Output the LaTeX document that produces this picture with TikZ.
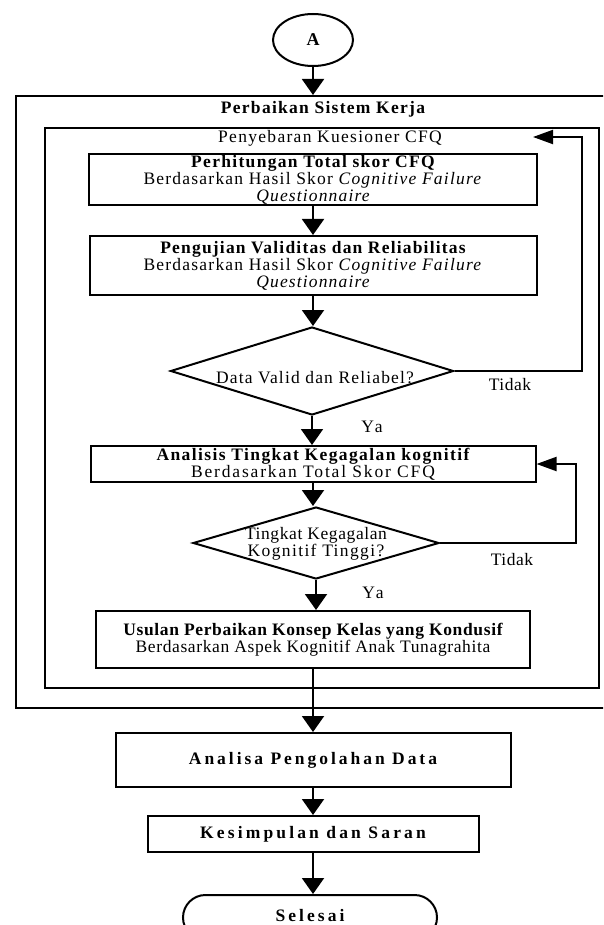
\documentclass[tikz,border=0pt]{standalone}
\usepackage{fontspec}
\setmainfont{Liberation Serif}
\usetikzlibrary{arrows.meta,shapes.geometric,shapes.misc}
\newcommand\lsp[2]{{\addfontfeature{LetterSpace=#1}#2}}
\begin{document}
\begin{tikzpicture}[x=1pt,y=-1pt,
  txt/.style={inner sep=0pt, align=center, font=\fontsize{17.5}{17}\selectfont},
  box/.style={txt, draw, line width=2pt},
  frame/.style={draw, line width=2pt, inner sep=0pt, anchor=north west},
  dia/.style={draw, diamond, line width=2pt, inner sep=0pt},
  darr/.style={line width=2pt, -{Triangle[width=22pt,length=16pt]}},
  harr/.style={line width=2pt, -{Triangle[width=14pt,length=20pt]}}]
\clip (0,0) rectangle (603,925);
\fill[white] (0,0) rectangle (603,925);

% start connector
\node[draw, ellipse, line width=2pt, minimum width=80pt, minimum height=52pt, inner sep=0pt,
      font=\bfseries\fontsize{18}{17}\selectfont] (A) at (313,40) {A};

% frames
\node[frame, minimum width=625pt, minimum height=612pt] (outer) at (15,95) {};
\node[frame, minimum width=554pt, minimum height=560pt] (inner) at (44,127) {};
\node[txt] (title) at (323,109) {\lsp{7.3}{\bfseries Perbaikan Sistem Kerja}};
\node[txt] (peny) at (330,138) {\lsp{7.4}{Penyebaran Kuesioner CFQ}};

% process boxes
\node[box, minimum width=448pt, minimum height=51pt] (perh) at (313,179.5)
  {\lsp{7.5}{\bfseries Perhitungan Total skor CFQ}\\
   \lsp{7}{Berdasarkan Hasil Skor \textit{Cognitive Failure}}\\
   \lsp{6.6}{\itshape Questionnaire}};
\node[box, minimum width=447pt, minimum height=59pt] (peng) at (313,265.5)
  {\lsp{6.8}{\bfseries Pengujian Validitas dan Reliabilitas}\\
   \lsp{7}{Berdasarkan Hasil Skor \textit{Cognitive Failure}}\\
   \lsp{6.6}{\itshape Questionnaire}};

\node[dia, minimum width=283pt, minimum height=88pt] (d1) at (312,371) {};
\node[txt] (d1t) at (315,378) {\lsp{6.7}{Data Valid dan Reliabel?}};

\node[box, minimum width=445pt, minimum height=36pt] (anal) at (313,464)
  {\lsp{8}{\bfseries Analisis Tingkat Kegagalan kognitif}\\
   \lsp{10.5}{Berdasarkan Total Skor CFQ}};

\node[dia, minimum width=246pt, minimum height=72pt] (d2) at (316,543) {};
\node[txt] (d2t) at (316,544) {\lsp{3.4}{Tingkat Kegagalan}\\ \lsp{7.8}{Kognitif Tinggi?}};

\node[box, minimum width=434pt, minimum height=57pt] (usul) at (313,639.5)
  {\lsp{3.7}{\bfseries Usulan Perbaikan Konsep Kelas yang Kondusif}\\
   \lsp{3.6}{Berdasarkan Aspek Kognitif Anak Tunagrahita}};

\node[box, minimum width=395pt, minimum height=54pt] (analisa) at (313,760)
  {\lsp{17}{\bfseries Analisa Pengolahan Data}};
\node[box, minimum width=331pt, minimum height=36pt] (kes) at (313,834)
  {\lsp{18}{\bfseries Kesimpulan dan Saran}};
\node[box, rounded rectangle, minimum width=254pt, minimum height=45pt] (sel) at (310,917.5)
  {\raisebox{4pt}{\lsp{17.5}{\bfseries Selesai}}};

% labels
\node[txt] (ya1) at (372,427) {\lsp{15}{Ya}};
\node[txt] (ti1) at (510,385) {\lsp{3}{Tidak}};
\node[txt] (ti2) at (512,560) {\lsp{3}{Tidak}};
\node[txt] (ya2) at (373,593) {\lsp{15}{Ya}};

% main flow
\draw[darr] (A.south) -- (A.south |- outer.north);
\draw[darr] (perh.south) -- (perh.south |- peng.north);
\draw[darr] (peng.south) -- (peng.south |- d1.north);
\draw[darr] (d1.south) -- (d1.south |- anal.north);
\draw[darr] (anal.south) -- (anal.south |- d2.north);
\draw[darr] (d2.south) -- (d2.south |- usul.north);
\draw[darr] (usul.south) -- (usul.south |- analisa.north);
\draw[darr] (analisa.south) -- (analisa.south |- kes.north);
\draw[darr] (kes.south) -- (kes.south |- sel.north);

% feedback loops
\coordinate (k1) at (582,137);
\coordinate (t1) at (533,137);
\draw[harr] (d1.east) -| (k1) -- (t1);
\coordinate (k2) at (576,464);
\draw[harr] (d2.east) -| (k2) -- (anal.east);
\end{tikzpicture}
\end{document}
